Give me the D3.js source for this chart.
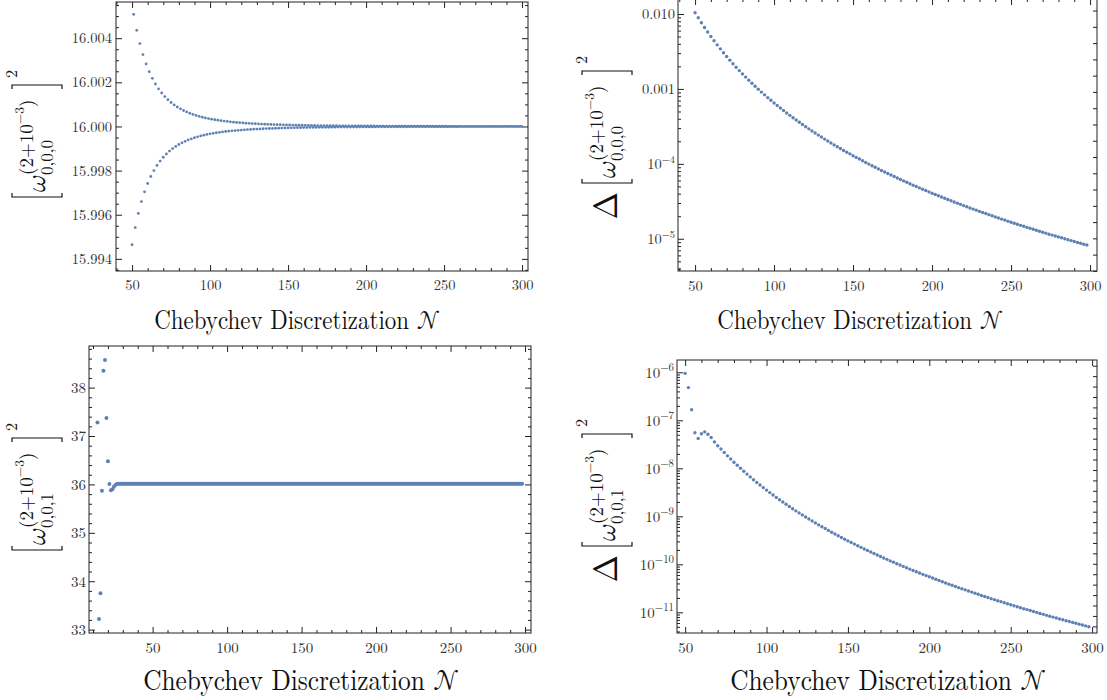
<!DOCTYPE html>
<html>
<head>
<meta charset="utf-8">
<script src="https://cdn.jsdelivr.net/npm/d3@7"></script>
<style>
  body { margin: 0; background: #fff; }
</style>
</head>
<body>
<svg id="chart" width="1107" height="700"></svg>
<script>
// Convergence of the squared eigenfrequencies with the Chebyshev grid size N.

// n = 0 mode: odd-N branch (approaches from above), even-N branch (from below)
const n0UpperStart = 51;
const n0Upper = [
  16.005080,16.004355,16.003756,16.003256,16.002836,16.002482,16.002182,16.001925,16.001705,16.001516,
  16.001352,16.001210,16.001086,16.000978,16.000882,16.000798,16.000724,16.000658,16.000600,16.000548,
  16.000501,16.000459,16.000422,16.000388,16.000358,16.000330,16.000305,16.000283,16.000262,16.000243,
  16.000226,16.000211,16.000196,16.000183,16.000171,16.000160,16.000150,16.000141,16.000132,16.000124,
  16.000117,16.000110,16.000103,16.000098,16.000092,16.000087,16.000082,16.000078,16.000074,16.000070,
  16.000066,16.000063,16.000060,16.000057,16.000054,16.000051,16.000049,16.000046,16.000044,16.000042,
  16.000040,16.000038,16.000037,16.000035,16.000034,16.000032,16.000031,16.000029,16.000028,16.000027,
  16.000026,16.000025,16.000024,16.000023,16.000022,16.000021,16.000020,16.000020,16.000019,16.000018,
  16.000017,16.000017,16.000016,16.000016,16.000015,16.000014,16.000014,16.000013,16.000013,16.000013,
  16.000012,16.000012,16.000011,16.000011,16.000011,16.000010,16.000010,16.000010,16.000009,16.000009,
  16.000009,16.000008,16.000008,16.000008,16.000008,16.000007,16.000007,16.000007,16.000007,16.000007,
  16.000006,16.000006,16.000006,16.000006,16.000006,16.000006,16.000005,16.000005,16.000005,16.000005,
  16.000005,16.000005,16.000005,16.000004,16.000004
];
const n0LowerStart = 50;
const n0Lower = [
  15.994640,15.995418,15.996060,15.996594,15.997040,15.997415,15.997733,15.998003,15.998234,15.998433,
  15.998605,15.998753,15.998883,15.998996,15.999095,15.999182,15.999259,15.999327,15.999388,15.999441,
  15.999489,15.999532,15.999571,15.999606,15.999637,15.999665,15.999691,15.999714,15.999735,15.999754,
  15.999771,15.999787,15.999802,15.999815,15.999827,15.999838,15.999849,15.999858,15.999867,15.999875,
  15.999883,15.999890,15.999896,15.999902,15.999908,15.999913,15.999918,15.999922,15.999926,15.999930,
  15.999934,15.999937,15.999940,15.999943,15.999946,15.999949,15.999951,15.999954,15.999956,15.999958,
  15.999960,15.999962,15.999963,15.999965,15.999967,15.999968,15.999970,15.999971,15.999972,15.999973,
  15.999974,15.999975,15.999976,15.999977,15.999978,15.999979,15.999980,15.999981,15.999981,15.999982,
  15.999983,15.999983,15.999984,15.999985,15.999985,15.999986,15.999986,15.999987,15.999987,15.999988,
  15.999988,15.999988,15.999989,15.999989,15.999990,15.999990,15.999990,15.999991,15.999991,15.999991,
  15.999991,15.999992,15.999992,15.999992,15.999992,15.999993,15.999993,15.999993,15.999993,15.999994,
  15.999994,15.999994,15.999994,15.999994,15.999994,15.999995,15.999995,15.999995,15.999995,15.999995,
  15.999995,15.999995,15.999996,15.999996,15.999996,15.999996
];

// n = 0 mode: difference between successive resolutions
const n0DeltaStart = 50;
const n0Delta = [
  1.040e-2,8.890e-3,7.644e-3,6.609e-3,5.744e-3,5.015e-3,4.399e-3,3.874e-3,3.426e-3,3.040e-3,
  2.707e-3,2.419e-3,2.168e-3,1.948e-3,1.756e-3,1.587e-3,1.438e-3,1.306e-3,1.188e-3,1.084e-3,
  9.91e-4,9.07e-4,8.33e-4,7.65e-4,7.05e-4,6.50e-4,6.00e-4,5.56e-4,5.15e-4,4.78e-4,
  4.44e-4,4.13e-4,3.85e-4,3.59e-4,3.35e-4,3.13e-4,2.93e-4,2.75e-4,2.58e-4,2.42e-4,
  2.28e-4,2.14e-4,2.02e-4,1.90e-4,1.79e-4,1.69e-4,1.60e-4,1.51e-4,1.43e-4,1.36e-4,
  1.28e-4,1.22e-4,1.16e-4,1.10e-4,1.04e-4,9.92e-5,9.44e-5,8.99e-5,8.56e-5,8.16e-5,
  7.78e-5,7.43e-5,7.09e-5,6.77e-5,6.48e-5,6.19e-5,5.92e-5,5.67e-5,5.43e-5,5.20e-5,
  4.99e-5,4.78e-5,4.59e-5,4.40e-5,4.23e-5,4.06e-5,3.90e-5,3.75e-5,3.61e-5,3.47e-5,
  3.34e-5,3.22e-5,3.10e-5,2.99e-5,2.88e-5,2.77e-5,2.68e-5,2.58e-5,2.49e-5,2.41e-5,
  2.32e-5,2.24e-5,2.17e-5,2.10e-5,2.03e-5,1.96e-5,1.89e-5,1.83e-5,1.78e-5,1.72e-5,
  1.66e-5,1.61e-5,1.56e-5,1.51e-5,1.47e-5,1.42e-5,1.38e-5,1.34e-5,1.30e-5,1.26e-5,
  1.22e-5,1.19e-5,1.15e-5,1.12e-5,1.09e-5,1.06e-5,1.03e-5,1.00e-5,9.71e-6,9.45e-6,
  9.19e-6,8.94e-6,8.70e-6,8.47e-6,8.25e-6
];

// n = 1 mode, every N from 13 upward
const n1Start = 13;
const n1Values = [
  37.28,33.22,33.75,35.87,38.35,38.57,37.37,36.48,36.01,35.88,35.90,35.95,35.99,36.01,
  36.013,36.013,36.013,36.013,36.013,36.013,36.013,36.013,36.013,36.013,
  36.013,36.013,36.013,36.013,36.013,36.013,36.013,36.013,36.013,36.013,
  36.013,36.013,36.013,36.013,36.013,36.013,36.013,36.013,36.013,36.013,
  36.013,36.013,36.013,36.013,36.013,36.013,36.013,36.013,36.013,36.013,
  36.013,36.013,36.013,36.013,36.013,36.013,36.013,36.013,36.013,36.013,
  36.013,36.013,36.013,36.013,36.013,36.013,36.013,36.013,36.013,36.013,
  36.013,36.013,36.013,36.013,36.013,36.013,36.013,36.013,36.013,36.013,
  36.013,36.013,36.013,36.013,36.013,36.013,36.013,36.013,36.013,36.013,
  36.013,36.013,36.013,36.013,36.013,36.013,36.013,36.013,36.013,36.013,
  36.013,36.013,36.013,36.013,36.013,36.013,36.013,36.013,36.013,36.013,
  36.013,36.013,36.013,36.013,36.013,36.013,36.013,36.013,36.013,36.013,
  36.013,36.013,36.013,36.013,36.013,36.013,36.013,36.013,36.013,36.013,
  36.013,36.013,36.013,36.013,36.013,36.013,36.013,36.013,36.013,36.013,
  36.013,36.013,36.013,36.013,36.013,36.013,36.013,36.013,36.013,36.013,
  36.013,36.013,36.013,36.013,36.013,36.013,36.013,36.013,36.013,36.013,
  36.013,36.013,36.013,36.013,36.013,36.013,36.013,36.013,36.013,36.013,
  36.013,36.013,36.013,36.013,36.013,36.013,36.013,36.013,36.013,36.013,
  36.013,36.013,36.013,36.013,36.013,36.013,36.013,36.013,36.013,36.013,
  36.013,36.013,36.013,36.013,36.013,36.013,36.013,36.013,36.013,36.013,
  36.013,36.013,36.013,36.013,36.013,36.013,36.013,36.013,36.013,36.013,
  36.013,36.013,36.013,36.013,36.013,36.013,36.013,36.013,36.013,36.013,
  36.013,36.013,36.013,36.013,36.013,36.013,36.013,36.013,36.013,36.013,
  36.013,36.013,36.013,36.013,36.013,36.013,36.013,36.013,36.013,36.013,
  36.013,36.013,36.013,36.013,36.013,36.013,36.013,36.013,36.013,36.013,
  36.013,36.013,36.013,36.013,36.013,36.013,36.013,36.013,36.013,36.013,
  36.013,36.013,36.013,36.013,36.013,36.013,36.013,36.013,36.013,36.013,
  36.013,36.013,36.013,36.013,36.013,36.013,36.013,36.013,36.013,36.013,
  36.013,36.013
];

// n = 1 mode: difference between successive resolutions
const n1DeltaStart = 50;
const n1Delta = [
  9.5e-7,4.8e-7,1.66e-7,5.5e-8,4.2e-8,5.25e-8,5.75e-8,5.13e-8,4.37e-8,3.55e-8,
  2.95e-8,2.52e-8,2.14e-8,1.82e-8,1.56e-8,1.34e-8,1.16e-8,1.00e-8,8.69e-9,7.57e-9,
  6.62e-9,5.79e-9,5.09e-9,4.49e-9,3.97e-9,3.52e-9,3.12e-9,2.78e-9,2.48e-9,2.22e-9,
  1.99e-9,1.78e-9,1.60e-9,1.44e-9,1.30e-9,1.18e-9,1.07e-9,9.68e-10,8.79e-10,8.00e-10,
  7.29e-10,6.64e-10,6.07e-10,5.56e-10,5.09e-10,4.67e-10,4.29e-10,3.94e-10,3.63e-10,3.34e-10,
  3.08e-10,2.85e-10,2.64e-10,2.44e-10,2.26e-10,2.09e-10,1.95e-10,1.81e-10,1.68e-10,1.56e-10,
  1.46e-10,1.36e-10,1.27e-10,1.18e-10,1.11e-10,1.03e-10,9.66e-11,9.06e-11,8.49e-11,7.96e-11,
  7.46e-11,7.02e-11,6.59e-11,6.19e-11,5.83e-11,5.50e-11,5.18e-11,4.88e-11,4.60e-11,4.34e-11,
  4.10e-11,3.87e-11,3.66e-11,3.46e-11,3.27e-11,3.10e-11,2.94e-11,2.79e-11,2.64e-11,2.51e-11,
  2.38e-11,2.25e-11,2.14e-11,2.04e-11,1.93e-11,1.84e-11,1.75e-11,1.67e-11,1.59e-11,1.51e-11,
  1.44e-11,1.37e-11,1.31e-11,1.25e-11,1.19e-11,1.14e-11,1.09e-11,1.04e-11,9.93e-12,9.48e-12,
  9.08e-12,8.67e-12,8.30e-12,7.96e-12,7.62e-12,7.29e-12,7.00e-12,6.70e-12,6.43e-12,6.17e-12,
  5.92e-12,5.68e-12,5.45e-12,5.22e-12,5.02e-12
];

// tick values
const xMajorTicks = [50, 100, 150, 200, 250, 300];
const n0YTicks = [15.994, 15.996, 15.998, 16.000, 16.002, 16.004];
const n1YTicks = [33, 34, 35, 36, 37, 38];
const n0DeltaTicks = [1e-5, 1e-4, 1e-3, 1e-2];
const n0DeltaLabels = ["10|−5", "10|−4", "0.001", "0.010"];
const n1DeltaTicks = [1e-11, 1e-10, 1e-9, 1e-8, 1e-7, 1e-6];
const n1DeltaLabels = ["10|−11", "10|−10", "10|−9", "10|−8", "10|−7", "10|−6"];
const xTitle = "Chebychev Discretization ";
const xTitleSymbol = "𝒩";

const ROMAN = '"Latin Modern Roman"';
const MATH = '"Latin Modern Math"';
const DOT = "#5e81b5";
const INK = "#222";
const svg = d3.select("#chart");
const defs = svg.append("defs");

function series(start, step, values) {
  return values.map((v, i) => ({ n: start + step * i, v }));
}

function minorRange(a, b, step) {
  const out = [];
  for (let k = Math.ceil(a / step - 1e-9); k * step <= b + 1e-12; k++) out.push(+(k * step).toFixed(8));
  return out;
}

function logMinor(lo, hi) {
  const out = [];
  for (let e = Math.floor(Math.log10(lo)); e <= Math.ceil(Math.log10(hi)); e++) {
    for (let m = 2; m <= 9; m++) {
      const v = m * Math.pow(10, e);
      if (v >= lo && v <= hi) out.push(v);
    }
  }
  return out;
}

function styleAxis(g, size) {
  g.select(".domain").remove();
  g.selectAll("line").attr("stroke", INK).attr("stroke-width", 1);
  g.attr("font-size", size).attr("fill", "#333");
  g.selectAll("text").attr("fill", "#333").style("font-family", ROMAN);
  return g;
}

function powerLabels(g, labels, ticks, base) {
  g.selectAll(".tick text").each(function (d) {
    const i = ticks.findIndex(t => Math.abs(t - d) / t < 1e-6);
    const t = d3.select(this).text(null);
    const parts = labels[i].split("|");
    t.append("tspan").text(parts[0]);
    if (parts[1]) {
      t.append("tspan").attr("font-size", base * 0.72).attr("dy", -base * 0.42).text(parts[1]);
    }
  });
}

function panel(p) {
  const g = svg.append("g");
  const x = d3.scaleLinear().domain(p.xDomain).range([p.l, p.r]);
  const y = (p.log ? d3.scaleLog() : d3.scaleLinear()).domain(p.yDomain).range([p.b, p.t]);

  defs.append("clipPath").attr("id", "clip-" + p.id)
    .append("rect").attr("x", p.l).attr("y", p.t).attr("width", p.r - p.l).attr("height", p.b - p.t);

  const xMinor = minorRange(p.xDomain[0], p.xDomain[1], 10).filter(v => v % 50 !== 0);

  // bottom axis with labels, top axis mirrored
  styleAxis(g.append("g").attr("transform", `translate(0,${p.b})`)
    .call(d3.axisBottom(x).tickValues(xMajorTicks).tickSize(-6).tickPadding(p.xPad).tickFormat(d3.format("d"))), p.fs);
  styleAxis(g.append("g").attr("transform", `translate(0,${p.b})`)
    .call(d3.axisBottom(x).tickValues(xMinor).tickSize(-3).tickFormat("")), p.fs);
  styleAxis(g.append("g").attr("transform", `translate(0,${p.t})`)
    .call(d3.axisTop(x).tickValues(xMajorTicks).tickSize(-6).tickFormat("")), p.fs);
  styleAxis(g.append("g").attr("transform", `translate(0,${p.t})`)
    .call(d3.axisTop(x).tickValues(xMinor).tickSize(-3).tickFormat("")), p.fs);

  // left axis with labels
  const left = styleAxis(g.append("g").attr("transform", `translate(${p.l},0)`)
    .call(d3.axisLeft(y).tickValues(p.yTicks).tickSize(-6).tickPadding(p.yPad)
      .tickFormat(p.yFormat || (() => ""))), p.fs);
  if (p.yLabels) powerLabels(left, p.yLabels, p.yTicks, p.fs);
  const yMinor = p.log ? logMinor(p.yDomain[0], p.yDomain[1]) : minorRange(p.yDomain[0], p.yDomain[1], p.yMinorStep)
    .filter(v => !p.yTicks.some(t => Math.abs(t - v) < p.yMinorStep * 0.01));
  styleAxis(g.append("g").attr("transform", `translate(${p.l},0)`)
    .call(d3.axisLeft(y).tickValues(yMinor).tickSize(-3).tickFormat("")), p.fs);

  // right axis
  if (p.log) {
    const yl = d3.scaleLinear().domain(p.yDomain.map(Math.log)).range([p.b, p.t]);
    const rt = minorRange(yl.domain()[0], yl.domain()[1], 0.5);
    styleAxis(g.append("g").attr("transform", `translate(${p.r},0)`)
      .call(d3.axisRight(yl).tickValues(rt).tickSize(-4).tickFormat("")), p.fs);
  } else {
    styleAxis(g.append("g").attr("transform", `translate(${p.r},0)`)
      .call(d3.axisRight(y).tickValues(p.yTicks).tickSize(-6).tickFormat("")), p.fs);
    styleAxis(g.append("g").attr("transform", `translate(${p.r},0)`)
      .call(d3.axisRight(y).tickValues(yMinor).tickSize(-3).tickFormat("")), p.fs);
  }

  // frame
  g.append("rect").attr("x", p.l).attr("y", p.t).attr("width", p.r - p.l).attr("height", p.b - p.t)
    .attr("fill", "none").attr("stroke", INK).attr("stroke-width", 1);

  // points
  const pts = g.append("g").attr("clip-path", `url(#clip-${p.id})`);
  p.data.forEach(d => {
    pts.selectAll(null).data(d).join("circle")
      .attr("cx", q => x(q.n)).attr("cy", q => y(q.v)).attr("r", p.r0).attr("fill", DOT);
  });

  // x title (display-size lettering: taller glyphs, tighter set)
  const t = g.append("text")
    .attr("transform", `translate(${p.title.x},${p.title.y}) scale(${p.title.sx},1)`)
    .attr("text-anchor", "middle").attr("font-size", p.title.size).attr("fill", "#111");
  t.append("tspan").style("font-family", ROMAN).text(xTitle);
  t.append("tspan").style("font-family", MATH).text(xTitleSymbol);
}

// rotated axis title  [ω^(2+10^-3)_{sub}]^2, optionally preceded by Δ
function yTitle(ox, oy, sub, delta) {
  const g = svg.append("g").attr("transform", `translate(${ox},${oy}) rotate(-90)`).attr("fill", "#111");
  const txt = (x, y, size, s, fam) => g.append("text").attr("x", x).attr("y", y)
    .attr("font-size", size).style("font-family", fam || ROMAN).text(s);
  g.append("path").attr("d", "M4,-33H0V17H4").attr("fill", "none").attr("stroke", "#111").attr("stroke-width", 1.2);
  txt(3, 0, 27, "ω", MATH).attr("font-style", "italic");
  txt(22, 8, 17, sub);
  const sup = txt(22, -12, 19, null);
  sup.append("tspan").text("(2+10");
  sup.append("tspan").attr("font-size", 13.5).attr("dy", -9).text("−3");
  sup.append("tspan").attr("dy", 9).text(")");
  g.append("path").attr("d", "M108,-33H112V17H108").attr("fill", "none").attr("stroke", "#111").attr("stroke-width", 1.2);
  txt(119, -28, 16, "2");
  if (delta) txt(-9, 2, 33, "Δ", MATH).attr("text-anchor", "end");
}

panel({
  id: "a", l: 116, t: 2, r: 528, b: 271,
  xDomain: [39.7, 303.8], yDomain: [15.99345, 16.00564],
  yTicks: n0YTicks, yFormat: d3.format(".3f"), yMinorStep: 0.0005,
  fs: 14.5, xPad: 9, yPad: 4, r0: 1.4,
  data: [series(n0UpperStart, 2, n0Upper), series(n0LowerStart, 2, n0Lower)],
  title: { x: 297, y: 329, size: 27, sx: 0.85 }
});
panel({
  id: "b", l: 678, t: -1, r: 1097, b: 271, log: true,
  xDomain: [39.2, 304.4], yDomain: [Math.pow(10, -5.43), Math.pow(10, -1.8)],
  yTicks: n0DeltaTicks, yLabels: n0DeltaLabels,
  fs: 14.5, xPad: 10, yPad: 3, r0: 1.7,
  data: [series(n0DeltaStart, 2, n0Delta)],
  title: { x: 860, y: 329, size: 27, sx: 0.85 }
});
panel({
  id: "c", l: 89, t: 346, r: 531, b: 633,
  xDomain: [7.3, 304], yDomain: [32.93, 38.86],
  yTicks: n1YTicks, yFormat: d3.format("d"), yMinorStep: 0.2,
  fs: 15, xPad: 9, yPad: 3, r0: 2,
  data: [series(n1Start, 1, n1Values)],
  title: { x: 301, y: 690, size: 29, sx: 0.875 }
});
panel({
  id: "d", l: 677, t: 360, r: 1097, b: 633, log: true,
  xDomain: [45, 303], yDomain: [Math.pow(10, -11.43), Math.pow(10, -5.744)],
  yTicks: n1DeltaTicks, yLabels: n1DeltaLabels,
  fs: 15, xPad: 9, yPad: 3, r0: 1.7,
  data: [series(n1DeltaStart, 2, n1Delta)],
  title: { x: 888, y: 690, size: 29, sx: 0.875 }
});

yTitle(45, 197, "0,0,0", false);
yTitle(615, 183, "0,0,0", true);
yTitle(45, 550, "0,0,1", false);
yTitle(615, 546, "0,0,1", true);
</script>
</body>
</html>
